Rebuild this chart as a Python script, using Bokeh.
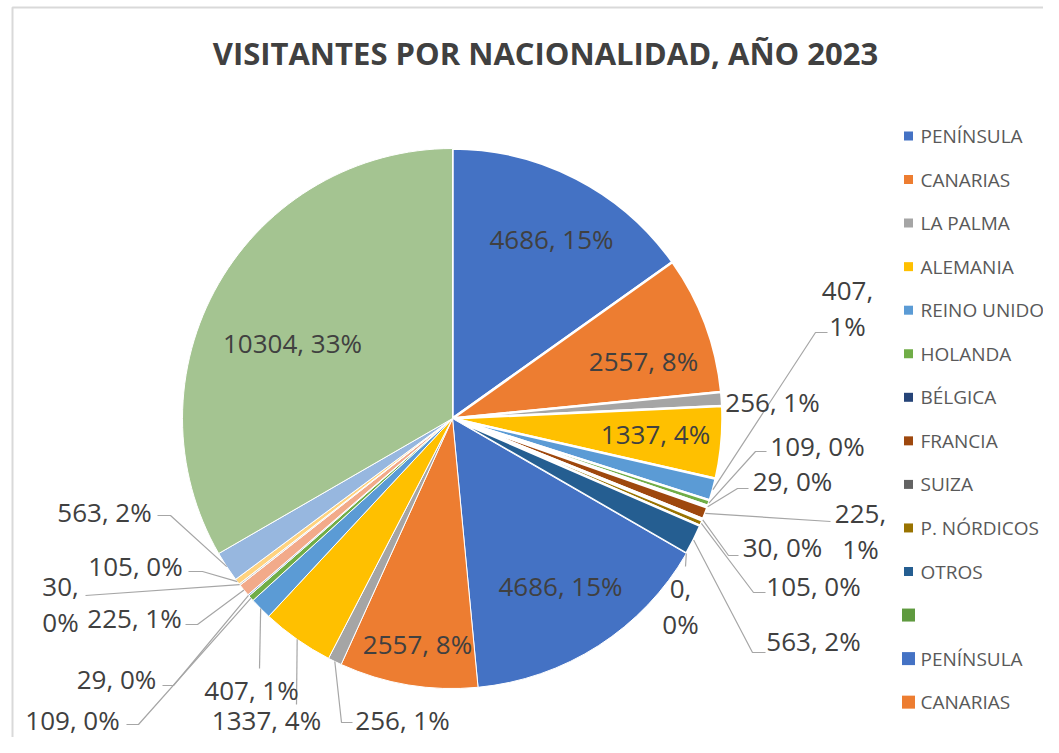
import math
from bokeh.plotting import figure
from bokeh.models import ColumnDataSource
from bokeh.core.properties import value
from bokeh.embed import file_html
from bokeh.resources import INLINE

# ---------------- data ----------------
categories = ["PENÍNSULA", "CANARIAS", "LA PALMA", "ALEMANIA", "REINO UNIDO", "HOLANDA",
              "BÉLGICA", "FRANCIA", "SUIZA", "P. NÓRDICOS", "OTROS", "",
              "PENÍNSULA", "CANARIAS", "LA PALMA", "ALEMANIA", "REINO UNIDO", "HOLANDA",
              "BÉLGICA", "FRANCIA", "SUIZA", "P. NÓRDICOS", "OTROS", ""]
values = [4686, 2557, 256, 1337, 407, 109, 29, 225, 30, 105, 563, 0,
          4686, 2557, 256, 1337, 407, 109, 29, 225, 30, 105, 563, 10304]
colors = ["#4472C4", "#ED7D31", "#A5A5A5", "#FFC000", "#5B9BD5", "#70AD47",
          "#264478", "#9E480E", "#636363", "#997300", "#255E91", "#5F9A3F",
          "#4472C4", "#ED7D31", "#A5A5A5", "#FFC000", "#5B9BD5", "#70AD47",
          "#8FAADC", "#F2AA8A", "#C9C9C9", "#FFD37F", "#97B7DF", "#A4C491"]
title_text = "VISITANTES POR NACIONALIDAD, AÑO 2023"
legend_count = 14

# ---------------- layout (reference pixel coordinates) ----------------
W, H = 1043, 737
def X(px): return px
def Y(py): return H - py

CX, CY, R = 452, 418, 270
label_pos = [(551, 238), (643, 360), (772, 401), (655, 433), (847, 307), (817, 445),
             (792, 480), (860, 530), (782, 546), (813, 585), (813, 640), (680, 605),
             (560, 585), (417, 643), (402, 719), (266, 719), (251, 689), (72, 719),
             (116, 678), (134, 617), (60, 603), (135, 565), (104, 511), (292, 342)]
label_break = [False, False, False, False, True, False, False, True, False, False, False, True,
               False, False, False, False, False, False, False, False, True, False, False, False]
# leader lines: list of (elbow, end) points, or None
leaders = [None, None, None, None, [(815, 332), (827, 332)], [(755, 451), (766, 451)],
           [(737, 488), (748, 488)], [(830, 521)], [(728, 555), (738, 555)],
           [(753, 592), (765, 592)], [(752, 652), (765, 652)], [(685, 566)],
           None, None, [(341, 722), (352, 722)], [(296, 704)], [(259, 668)],
           [(138, 724), (126, 724)], [(173, 685), (162, 685)], [(197, 624), (185, 624)],
           [(85, 595)], [(202, 571), (188, 571)], [(170, 515), (157, 515)], None]

total = sum(values)
fracs_start, fracs_end = [], []
c = 0.0
for v in values:
    fracs_start.append(c / total)
    c += v
    fracs_end.append(c / total)

p = figure(width=W, height=H, output_backend="svg", toolbar_location=None,
           x_range=(0, W), y_range=(0, H), min_border=0,
           x_axis_location=None, y_axis_location=None)
p.outline_line_color = None
p.grid.visible = False
p.background_fill_color = "white"

# chart-area border (left and top edges visible)
p.line([X(12), X(12), W + 5], [-5, Y(7), Y(7)], line_color="#D9D9D9", line_width=2)

# wedges
rows = dict(x=[], y=[], s=[], e=[], color=[], lw=[])
for i, v in enumerate(values):
    if v <= 0:
        continue
    rows["x"].append(X(CX)); rows["y"].append(Y(CY))
    rows["s"].append(math.pi / 2 - 2 * math.pi * fracs_start[i])
    rows["e"].append(math.pi / 2 - 2 * math.pi * fracs_end[i])
    rows["color"].append(colors[i])
    rows["lw"].append(2.5 if i < 12 else 1.0)
src = ColumnDataSource(rows)
p.wedge(x="x", y="y", radius=R, start_angle="s", end_angle="e", direction="clock",
        fill_color="color", line_color="white", line_width="lw", source=src)

# leader lines
lx, ly = [], []
for i, ld in enumerate(leaders):
    if ld is None:
        continue
    mid = (fracs_start[i] + fracs_end[i]) / 2 * 2 * math.pi
    sx = CX + R * math.sin(mid)
    sy = CY - R * math.cos(mid)
    xs = [X(sx)] + [X(pt[0]) for pt in ld]
    ys = [Y(sy)] + [Y(pt[1]) for pt in ld]
    lx.append(xs); ly.append(ys)
p.multi_line(lx, ly, line_color="#A6A6A6", line_width=1.2)

# data labels
texts, tx, ty = [], [], []
for i, v in enumerate(values):
    pct = round(v / total * 100)
    sep = ",\n" if label_break[i] else ", "
    texts.append(f"{v}{sep}{pct}%")
    tx.append(X(label_pos[i][0])); ty.append(Y(label_pos[i][1]))
p.text(tx, ty, text=texts, text_align="center", text_baseline="middle",
       text_font=value("Open Sans"), text_font_size="26px", text_color="#404040",
       text_line_height=1.0)

# title
p.text([X(545)], [Y(52)], text=[title_text], text_align="center", text_baseline="middle",
       text_font=value("Open Sans"), text_font_style="bold", text_font_size="31px",
       text_color="#404040")

# legend (manual, as in reference where it is cut off)
leg_y = [Y(135.5 + 43.55 * k) for k in range(legend_count)]
leg_sizes = [9 if k < 11 else 13 for k in range(legend_count)]
p.scatter([X(908)] * legend_count, leg_y, marker="square", size=leg_sizes,
          fill_color=colors[:legend_count], line_color=None)
p.text([X(920)] * legend_count, leg_y, text=categories[:legend_count], text_align="left",
       text_baseline="middle", text_font=value("Open Sans"), text_font_size="19px",
       text_color="#595959")

open("out.html", "w").write(file_html(p, INLINE))
